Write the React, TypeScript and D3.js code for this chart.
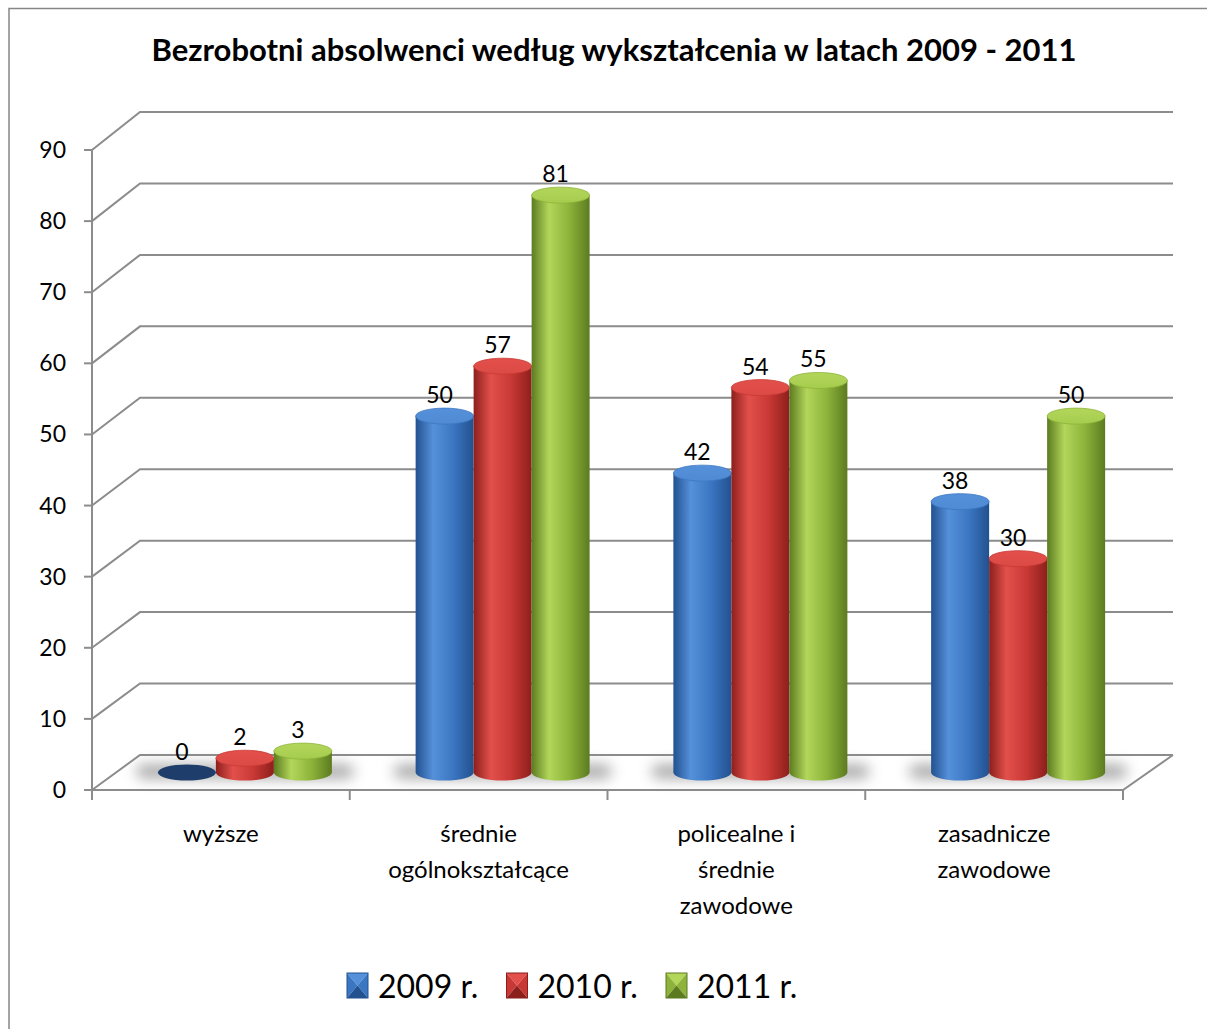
import React, { useEffect, useRef } from "react";
import * as d3 from "d3";

const categories = [["wyższe"], ["średnie", "ogólnokształcące"], ["policealne i", "średnie", "zawodowe"], ["zasadnicze", "zawodowe"]];
const seriesNames = ["2009 r.", "2010 r.", "2011 r."];
const values2009 = [0, 50, 42, 38];
const values2010 = [2, 57, 54, 30];
const values2011 = [3, 81, 55, 50];
const yTicks = [0, 10, 20, 30, 40, 50, 60, 70, 80, 90];

const palette = [
  { dark: "#22518f", light: "#5590da", mid: "#3b76c2", top: "#4f8ad3", zero: "#1f3d6b" },
  { dark: "#8c1f1c", light: "#e3504c", mid: "#c83834", top: "#dc4a46", zero: "#8c1f1c" },
  { dark: "#5c7b20", light: "#b2d65a", mid: "#8db33a", top: "#a6cc4e", zero: "#5c7b20" },
];

const FONT = "Lato, 'Open Sans', sans-serif";

export default function App() {
  const ref = useRef<SVGSVGElement>(null);

  useEffect(() => {
    const svg = d3.select(ref.current);
    svg.selectAll("*").remove();

    const W = 1207, H = 1029;
    const left = 92, right = 1123;
    const dx = 48;

    const yFront = d3.scaleLinear().domain([0, 90]).range([790, 150]);
    const yBack = d3.scaleLinear().domain([0, 90]).range([755, 112]);
    const yMid = (v: number) => (yFront(v) + yBack(v)) / 2;

    const x = d3.scaleBand<number>().domain(d3.range(categories.length)).range([left, right]);
    const inner = d3.scaleBand<number>().domain([0, 1, 2]).range([0, 174]);
    const series = [values2009, values2010, values2011];

    const defs = svg.append("defs");
    palette.forEach((p, i) => {
      const g = defs.append("linearGradient").attr("id", "cyl" + i).attr("x1", 0).attr("x2", 1).attr("y1", 0).attr("y2", 0);
      g.append("stop").attr("offset", "0%").attr("stop-color", p.dark);
      g.append("stop").attr("offset", "30%").attr("stop-color", p.light);
      g.append("stop").attr("offset", "65%").attr("stop-color", p.mid);
      g.append("stop").attr("offset", "100%").attr("stop-color", p.dark);
      const t = defs.append("linearGradient").attr("id", "top" + i).attr("x1", 0).attr("x2", 0).attr("y1", 0).attr("y2", 1);
      t.append("stop").attr("offset", "0%").attr("stop-color", p.light);
      t.append("stop").attr("offset", "100%").attr("stop-color", p.top);
    });
    defs.append("filter").attr("id", "blur").attr("x", "-50%").attr("y", "-200%").attr("width", "200%").attr("height", "500%")
      .append("feGaussianBlur").attr("stdDeviation", 7);

    svg.append("rect").attr("width", W).attr("height", H).attr("fill", "#fff");
    // frame, only left and top edges are in view
    svg.append("path").attr("d", `M9,${H}V8.5H${W}`)
      .attr("fill", "none").attr("stroke", "#868686").attr("stroke-width", 1.5);

    svg.append("text").attr("x", 614).attr("y", 61).attr("text-anchor", "middle")
      .attr("font-family", FONT).attr("font-weight", "bold").attr("font-size", 31)
      .text("Bezrobotni absolwenci według wykształcenia w latach 2009 - 2011");

    const grid = "#8c8c8c";
    // gridlines on walls
    yTicks.forEach(v => {
      svg.append("path")
        .attr("d", `M${left},${yFront(v)}L${left + dx},${yBack(v)}H1173`)
        .attr("fill", "none").attr("stroke", grid).attr("stroke-width", 2);
      svg.append("line").attr("x1", left - 8).attr("x2", left).attr("y1", yFront(v)).attr("y2", yFront(v))
        .attr("stroke", grid).attr("stroke-width", 2);
      svg.append("text").attr("x", 66).attr("y", yFront(v)).attr("dy", "0.35em").attr("text-anchor", "end")
        .attr("font-family", FONT).attr("font-size", 23).text(v);
    });
    // axes and floor
    svg.append("line").attr("x1", left).attr("x2", left).attr("y1", yFront(90)).attr("y2", yFront(0))
      .attr("stroke", grid).attr("stroke-width", 2);
    svg.append("path").attr("d", `M${left},${yFront(0)}H${right}L1173,${yBack(0)}`)
      .attr("fill", "none").attr("stroke", grid).attr("stroke-width", 2);
    d3.range(categories.length + 1).forEach(i => {
      const xx = left + i * x.bandwidth();
      svg.append("line").attr("x1", xx).attr("x2", xx).attr("y1", yFront(0)).attr("y2", yFront(0) + 10)
        .attr("stroke", grid).attr("stroke-width", 2);
    });

    const ry = 8;
    const base = yMid(0);
    // shadows
    categories.forEach((_, c) => {
      const gx = (x(c) as number) + x.bandwidth() / 2 + dx / 2 - 87;
      svg.append("rect").attr("x", gx - 22).attr("y", base - 8).attr("width", 218).attr("height", 14)
        .attr("rx", 8).attr("fill", "#8a8a8a").attr("opacity", 0.75).attr("filter", "url(#blur)");
    });

    // cylinders
    categories.forEach((_, c) => {
      series.forEach((vals, s) => {
        const v = vals[c];
        const x0 = (x(c) as number) + x.bandwidth() / 2 + dx / 2 - 87 + (inner(s) as number);
        const w = inner.bandwidth();
        const cx = x0 + w / 2;
        const top = yMid(v);
        const g = svg.append("g");
        if (v === 0) {
          g.append("ellipse").attr("cx", cx).attr("cy", base).attr("rx", w / 2).attr("ry", ry)
            .attr("fill", palette[s].zero);
        } else {
          g.append("path")
            .attr("d", `M${x0},${top}V${base}A${w / 2},${ry} 0 0 0 ${x0 + w},${base}V${top}Z`)
            .attr("fill", `url(#cyl${s})`);
          g.append("ellipse").attr("cx", cx).attr("cy", top).attr("rx", w / 2).attr("ry", ry)
            .attr("fill", `url(#top${s})`).attr("stroke", palette[s].mid).attr("stroke-width", 0.8);
        }
        svg.append("text").attr("x", cx - 5).attr("y", top - ry - 5).attr("text-anchor", "middle")
          .attr("font-family", FONT).attr("font-size", 23).text(v);
      });
    });

    // category labels
    categories.forEach((lines, c) => {
      const t = svg.append("text").attr("x", (x(c) as number) + x.bandwidth() / 2).attr("y", 842)
        .attr("text-anchor", "middle").attr("font-family", FONT).attr("font-size", 24);
      lines.forEach((l, i) => t.append("tspan").attr("x", (x(c) as number) + x.bandwidth() / 2).attr("dy", i === 0 ? 0 : 36).text(l));
    });

    // legend
    seriesNames.forEach((name, s) => {
      const lx = 347 + s * 159.5, ly = 973, lw = 21, lh = 25;
      const p = palette[s];
      const cxm = lx + lw / 2, cym = ly + lh / 2;
      const tri = (pts: number[][], fill: string) =>
        svg.append("path").attr("d", "M" + pts.map(q => q.join(",")).join("L") + "Z").attr("fill", fill);
      tri([[lx, ly], [lx + lw, ly], [cxm, cym]], p.light);
      tri([[lx, ly], [cxm, cym], [lx, ly + lh]], p.mid);
      tri([[lx + lw, ly], [lx + lw, ly + lh], [cxm, cym]], p.mid);
      tri([[lx, ly + lh], [cxm, cym], [lx + lw, ly + lh]], p.dark);
      svg.append("rect").attr("x", lx).attr("y", ly).attr("width", lw).attr("height", lh)
        .attr("fill", "none").attr("stroke", p.dark).attr("stroke-width", 1);
      svg.append("text").attr("x", lx + 31).attr("y", ly + lh).attr("font-family", FONT).attr("font-size", 32)
        .text(name);
    });
  }, []);

  return (
    <svg ref={ref} width={1207} height={1029}
      style={{ position: "absolute", left: 0, top: 0, display: "block" }} />
  );
}
